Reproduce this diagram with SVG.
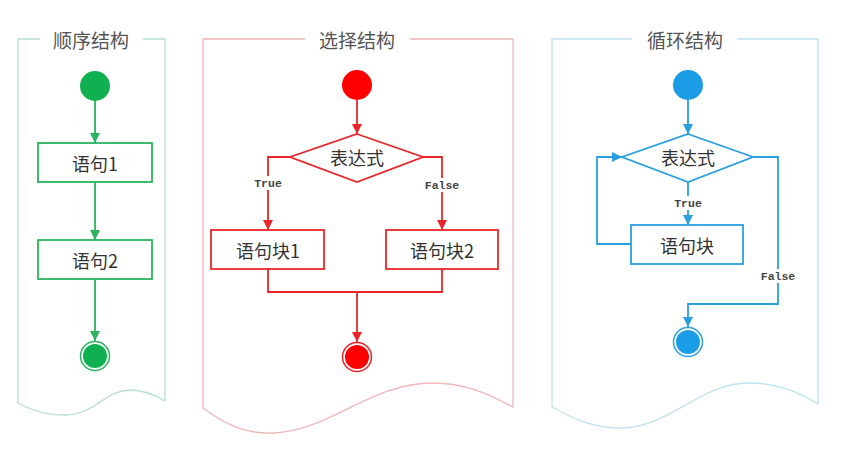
<svg xmlns="http://www.w3.org/2000/svg" width="841" height="449" viewBox="0 0 841 449">
<style>
.frame{fill:none;stroke-width:1.3}
.title{font-family:"Noto Sans CJK SC","Noto Sans",sans-serif;font-size:19px;fill:#555;text-anchor:middle;dominant-baseline:central}
.txt{font-family:"Noto Sans CJK SC","Noto Sans",sans-serif;font-size:18px;fill:#333;text-anchor:middle;dominant-baseline:central}
.lbl{font-family:"Liberation Mono",monospace;font-size:11.5px;font-weight:bold;fill:#444;text-anchor:middle;dominant-baseline:central}
.g{stroke:#2bb35e;fill:none;stroke-width:1.8}
.r{stroke:#e8262a;fill:none;stroke-width:1.8}
.b{stroke:#2a9fe0;fill:none;stroke-width:1.8}
.box{fill:#fff}
.bg{fill:#fff}
</style>
<defs>
<marker id="ag" viewBox="0 0 10 10" refX="10" refY="5" markerWidth="10" markerHeight="10" markerUnits="userSpaceOnUse" orient="auto"><path d="M0,0 L10,5 L0,10 z" fill="#2bb35e"/></marker>
<marker id="ar" viewBox="0 0 10 10" refX="10" refY="5" markerWidth="10" markerHeight="10" markerUnits="userSpaceOnUse" orient="auto"><path d="M0,0 L10,5 L0,10 z" fill="#e8262a"/></marker>
<marker id="ab" viewBox="0 0 10 10" refX="10" refY="5" markerWidth="10" markerHeight="10" markerUnits="userSpaceOnUse" orient="auto"><path d="M0,0 L10,5 L0,10 z" fill="#2a9fe0"/></marker>
</defs>
<rect width="841" height="449" fill="#fff"/>

<!-- frames -->
<g id="frame-seq">
<path class="frame" stroke="#b5e3cb" d="M40,39 H18 V403 C35,412 48,415 65,415 C95,415 105,390 130,390 C145,390 157,396 165,401 V39 H143"/>
<text class="title" x="91" y="39">顺序结构</text>
</g>
<g id="frame-sel">
<path class="frame" stroke="#f1b6b9" d="M305,39 H203 V408 C230,428 250,434 273,433 C330,431 370,383 433,383 C470,383 495,398 513,407 V39 H410"/>
<text class="title" x="357" y="39">选择结构</text>
</g>
<g id="frame-loop">
<path class="frame" stroke="#bde2f0" d="M632,39 H552 V407 C575,420 595,428 620,428 C670,428 700,383 748,383 C780,383 800,393 818,404 V39 H737"/>
<text class="title" x="685" y="39">循环结构</text>
</g>

<!-- connectors -->
<g id="connectors">
<line class="g" x1="95" y1="100" x2="95" y2="143" marker-end="url(#ag)"/>
<line class="g" x1="95" y1="182" x2="95" y2="240" marker-end="url(#ag)"/>
<line class="g" x1="95" y1="279" x2="95" y2="341" marker-end="url(#ag)"/>

<line class="r" x1="357" y1="100" x2="357" y2="134" marker-end="url(#ar)"/>
<path class="r" d="M290,157 H268 V230" marker-end="url(#ar)"/>
<path class="r" d="M423,157 H442 V230" marker-end="url(#ar)"/>
<path class="r" d="M268,269 V292 H442 V269"/>
<line class="r" x1="357" y1="292" x2="357" y2="342" marker-end="url(#ar)"/>
<rect class="bg" x="253" y="176" width="30" height="14"/>
<text class="lbl" x="268" y="183">True</text>
<rect class="bg" x="424" y="178" width="36" height="14"/>
<text class="lbl" x="442" y="185">False</text>

<line class="b" x1="688" y1="100" x2="688" y2="134" marker-end="url(#ab)"/>
<line class="b" x1="688" y1="182" x2="688" y2="225" marker-end="url(#ab)"/>
<path class="b" d="M631,244 H597 V157 H622" marker-end="url(#ab)"/>
<path class="b" d="M753,157 H778 V304 H688 V327" marker-end="url(#ab)"/>
<rect class="bg" x="673" y="196" width="30" height="14"/>
<text class="lbl" x="688" y="203">True</text>
<rect class="bg" x="760" y="269" width="36" height="14"/>
<text class="lbl" x="778" y="276">False</text>
</g>

<!-- sequence nodes -->
<g id="seq-start"><circle cx="95" cy="86" r="15" fill="#0fb04f"/></g>
<g id="seq-s1"><rect class="g box" x="38" y="143" width="114" height="39"/><text class="txt" x="95" y="162.5">语句1</text></g>
<g id="seq-s2"><rect class="g box" x="38" y="240" width="114" height="39"/><text class="txt" x="95" y="259.5">语句2</text></g>
<g id="seq-end"><circle cx="95" cy="356" r="14.5" fill="#fff" stroke="#2bb35e" stroke-width="1.5"/><circle cx="95" cy="356" r="12" fill="#0fb04f"/></g>

<!-- selection nodes -->
<g id="sel-start"><circle cx="357" cy="85" r="15" fill="#ff0000"/></g>
<g id="sel-cond"><polygon class="r box" points="357,134 423,157 357,182 290,157"/><text class="txt" x="357" y="157">表达式</text></g>
<g id="sel-b1"><rect class="r box" x="211" y="230" width="113" height="39"/><text class="txt" x="268" y="249.5">语句块1</text></g>
<g id="sel-b2"><rect class="r box" x="386" y="230" width="112" height="39"/><text class="txt" x="442" y="249.5">语句块2</text></g>
<g id="sel-end"><circle cx="357" cy="357" r="14.5" fill="#fff" stroke="#e8262a" stroke-width="1.5"/><circle cx="357" cy="357" r="12" fill="#ff0000"/></g>

<!-- loop nodes -->
<g id="loop-start"><circle cx="688" cy="85" r="15" fill="#1b9ce6"/></g>
<g id="loop-cond"><polygon class="b box" points="688,134 753,157 688,182 622,157"/><text class="txt" x="688" y="157">表达式</text></g>
<g id="loop-body"><rect class="b box" x="631" y="225" width="112" height="39"/><text class="txt" x="687" y="244.5">语句块</text></g>
<g id="loop-end"><circle cx="688" cy="342" r="14.5" fill="#fff" stroke="#2a9fe0" stroke-width="1.5"/><circle cx="688" cy="342" r="12" fill="#1b9ce6"/></g>
</svg>
